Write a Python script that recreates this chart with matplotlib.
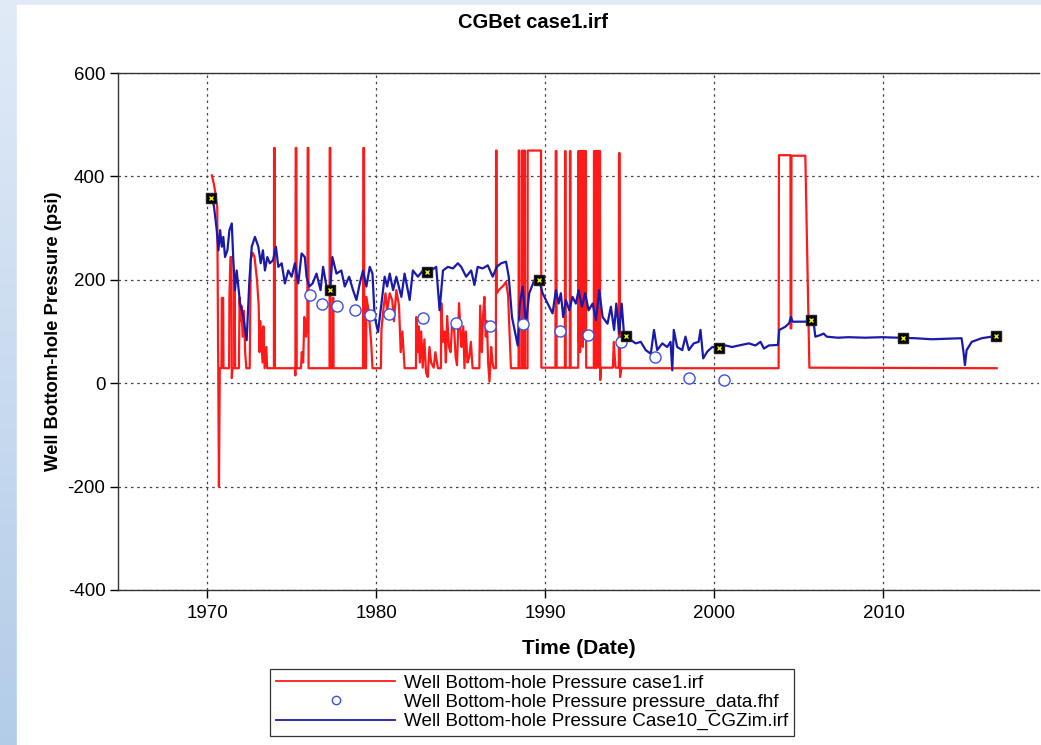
import numpy as np
import matplotlib
matplotlib.use("Agg")
import matplotlib.pyplot as plt
from matplotlib.patches import Rectangle
from matplotlib.lines import Line2D

plt.rcParams['font.family'] = ['Liberation Sans', 'DejaVu Sans']
plt.rcParams['axes.unicode_minus'] = False

# case1.irf simulated bottom-hole pressure (decimal year, psi)
red_years = [1970.28, 1970.40, 1970.47, 1970.60, 1970.70, 1970.75, 1970.85, 1970.87, 1970.95, 1970.97,
             1971.30, 1971.32, 1971.38, 1971.44, 1971.46, 1971.50, 1971.60, 1971.62, 1971.66, 1971.88,
             1971.92, 1971.98, 1972.03, 1972.10, 1972.18, 1972.25, 1972.32, 1972.52, 1972.58, 1972.70,
             1972.80, 1972.95, 1973.05, 1973.10, 1973.15, 1973.20, 1973.28, 1973.33, 1973.40, 1973.50,
             1973.55, 1973.95, 1973.96, 1974.00, 1974.01, 1975.20, 1975.22, 1975.24, 1975.28, 1975.30,
             1975.55, 1975.60, 1975.68, 1975.75, 1975.85, 1975.93, 1975.95, 1975.99, 1976.00, 1977.24,
             1977.25, 1977.29, 1977.30, 1977.43, 1977.44, 1977.47, 1977.48, 1979.22, 1979.24, 1979.28,
             1979.30, 1979.40, 1979.42, 1979.55, 1979.70, 1979.78, 1980.28, 1980.31, 1980.45, 1980.55,
             1980.65, 1980.80, 1980.95, 1981.05, 1981.19, 1981.35, 1981.45, 1981.55, 1981.68, 1982.35,
             1982.37, 1982.45, 1982.52, 1982.58, 1982.66, 1982.75, 1982.85, 1982.95, 1983.05, 1983.15,
             1983.25, 1983.40, 1983.50, 1983.65, 1983.83, 1983.85, 1983.95, 1984.05, 1984.12, 1984.20,
             1984.30, 1984.40, 1984.50, 1984.60, 1984.70, 1984.78, 1984.90, 1985.00, 1985.05, 1985.15,
             1985.22, 1985.30, 1985.40, 1985.50, 1985.60, 1985.70, 1986.10, 1986.15, 1986.25, 1986.32,
             1986.40, 1986.48, 1986.55, 1986.62, 1986.70, 1986.80, 1986.88, 1986.95, 1987.08, 1987.09,
             1987.12, 1987.13, 1987.25, 1987.40, 1987.55, 1987.68, 1987.80, 1987.97, 1988.42, 1988.43,
             1988.46, 1988.47, 1988.61, 1988.62, 1988.65, 1988.66, 1988.75, 1988.76, 1988.79, 1988.80,
             1988.95, 1988.96, 1989.75, 1989.77, 1990.60, 1990.62, 1990.66, 1990.67, 1991.16, 1991.17,
             1991.20, 1991.21, 1991.45, 1991.46, 1991.49, 1991.50, 1991.95, 1991.96, 1991.98, 1991.99,
             1992.02, 1992.05, 1992.06, 1992.10, 1992.13, 1992.14, 1992.18, 1992.21, 1992.22, 1992.27,
             1992.30, 1992.31, 1992.36, 1992.40, 1992.42, 1992.87, 1992.88, 1992.92, 1992.93, 1993.00,
             1993.01, 1993.04, 1993.05, 1993.10, 1993.14, 1993.16, 1993.20, 1993.24, 1993.25, 1993.30,
             1994.00, 1994.05, 1994.15, 1994.35, 1994.36, 1994.40, 1994.42, 1994.50, 2003.80, 2003.82,
             2004.50, 2004.51, 2004.55, 2004.56, 2005.38, 2005.62, 2016.70]
red_psi = [402, 385, 372, 340, -200, 29, 29, 165, 165, 29,
           29, 167, 244, 244, 10, 29, 29, 210, 29, 29,
           166, 120, 150, 90, 140, 60, 29, 29, 240, 252,
           245, 200, 150, 60, 120, 89, 40, 110, 29, 70,
           29, 29, 455, 455, 29, 29, 15, 455, 455, 29,
           29, 60, 40, 128, 90, 128, 455, 455, 29, 29,
           455, 455, 29, 29, 165, 165, 29, 29, 455, 455,
           29, 29, 167, 140, 80, 29, 29, 103, 150, 174,
           140, 174, 160, 120, 180, 150, 60, 100, 29, 29,
           128, 60, 110, 40, 100, 30, 85, 20, 12, 70,
           40, 30, 60, 29, 29, 155, 80, 100, 40, 130,
           70, 60, 120, 110, 50, 35, 155, 90, 70, 110,
           29, 100, 40, 50, 80, 29, 29, 150, 60, 130,
           167, 90, 120, 40, 3, 70, 40, 29, 29, 450,
           450, 174, 180, 185, 190, 196, 170, 29, 29, 450,
           450, 29, 29, 450, 450, 29, 29, 450, 450, 29,
           29, 450, 450, 30, 30, 449, 449, 30, 30, 449,
           449, 30, 30, 449, 449, 30, 30, 449, 449, 80,
           449, 449, 60, 449, 449, 100, 449, 449, 70, 449,
           449, 90, 449, 449, 30, 30, 449, 449, 30, 30,
           449, 449, 30, 449, 449, 30, 449, 449, 6, 30,
           30, 80, 30, 30, 445, 445, 12, 29, 29, 441,
           441, 106, 106, 440, 440, 30, 29]

# Case10_CGZim.irf simulated bottom-hole pressure
blue_years = [1970.28, 1970.41, 1970.57, 1970.67, 1970.77, 1970.87, 1970.96, 1971.06, 1971.20, 1971.32,
              1971.46, 1971.55, 1971.65, 1971.75, 1971.95, 1972.14, 1972.34, 1972.50, 1972.64, 1972.83,
              1973.03, 1973.17, 1973.30, 1973.42, 1973.56, 1973.71, 1973.90, 1974.07, 1974.21, 1974.41,
              1974.60, 1974.80, 1975.00, 1975.19, 1975.39, 1975.59, 1975.78, 1975.88, 1976.04, 1976.24,
              1976.47, 1976.71, 1976.86, 1977.06, 1977.26, 1977.41, 1977.65, 1977.94, 1978.14, 1978.40,
              1978.63, 1978.83, 1979.03, 1979.22, 1979.42, 1979.62, 1979.78, 1979.91, 1980.11, 1980.31,
              1980.50, 1980.65, 1980.80, 1981.00, 1981.19, 1981.49, 1981.68, 1981.98, 1982.17, 1982.47,
              1982.76, 1982.96, 1983.25, 1983.55, 1983.75, 1983.95, 1984.24, 1984.54, 1984.83, 1985.03,
              1985.32, 1985.62, 1985.81, 1986.00, 1986.30, 1986.60, 1986.89, 1987.13, 1987.39, 1987.68,
              1987.84, 1988.03, 1988.23, 1988.37, 1988.50, 1988.66, 1988.86, 1989.05, 1989.35, 1989.65,
              1989.84, 1990.14, 1990.43, 1990.63, 1990.79, 1990.92, 1991.06, 1991.22, 1991.42, 1991.61,
              1991.81, 1991.97, 1992.17, 1992.36, 1992.56, 1992.80, 1993.00, 1993.19, 1993.39, 1993.68,
              1993.88, 1994.07, 1994.20, 1994.37, 1994.52, 1994.66, 1994.95, 1995.35, 1995.65, 1995.94,
              1996.24, 1996.43, 1996.62, 1996.92, 1997.21, 1997.41, 1997.51, 1997.60, 1997.80, 1998.10,
              1998.29, 1998.49, 1998.78, 1999.07, 1999.18, 1999.34, 1999.58, 1999.88, 2000.30, 2000.66,
              2001.05, 2001.45, 2002.04, 2002.43, 2002.73, 2002.93, 2003.22, 2003.76, 2003.84, 2004.19,
              2004.42, 2004.53, 2004.62, 2005.87, 2005.97, 2006.26, 2006.46, 2006.65, 2007.30, 2007.93,
              2008.90, 2009.90, 2010.90, 2011.87, 2012.85, 2013.70, 2014.62, 2014.72, 2014.82, 2014.92,
              2015.22, 2015.81, 2016.59]
blue_psi = [360, 341, 296, 257, 296, 264, 283, 244, 257, 296,
            309, 238, 180, 218, 154, 128, 83, 199, 264, 283,
            264, 232, 257, 218, 244, 232, 238, 264, 225, 232,
            193, 218, 206, 232, 193, 251, 244, 206, 187, 193,
            212, 180, 225, 187, 174, 244, 212, 218, 187, 206,
            180, 161, 193, 218, 187, 225, 212, 128, 99, 154,
            206, 187, 212, 180, 206, 167, 212, 161, 218, 206,
            218, 222, 218, 225, 141, 218, 225, 222, 232, 225,
            206, 218, 190, 225, 222, 228, 206, 225, 232, 235,
            206, 128, 96, 73, 154, 187, 115, 174, 199, 199,
            174, 154, 135, 180, 154, 174, 128, 161, 141, 167,
            154, 180, 148, 174, 141, 154, 122, 180, 128, 115,
            148, 103, 154, 96, 154, 93, 86, 77, 80, 64,
            57, 103, 64, 77, 70, 80, 25, 103, 70, 64,
            90, 64, 77, 80, 103, 48, 61, 70, 68, 73,
            70, 73, 77, 73, 80, 67, 73, 74, 103, 109,
            116, 128, 119, 119, 90, 93, 96, 90, 88, 89,
            88, 89, 88, 87, 85, 86, 87, 64, 35, 64,
            80, 87, 91]

# pressure_data.fhf observed points
obs_years = [1976.08, 1976.77, 1977.69, 1978.77, 1979.66, 1980.76, 1982.77, 1984.73,
             1986.74, 1988.70, 1990.86, 1992.51, 1994.50, 1996.49, 1998.50, 2000.58]
obs_psi = [170, 154, 150, 141, 132, 133, 127, 117,
           111, 115, 101, 94, 79, 50, 10, 7]

# event flags drawn on the Case10 curve
flag_years = [1970.24, 1977.26, 1982.98, 1989.65, 1994.78, 2000.27, 2005.69, 2011.18, 2016.67]
flag_psi = [358, 180, 215, 199, 91, 68, 122, 87, 91]

y_ticks = [-400, -200, 0, 200, 400, 600]
x_ticks = [1970, 1980, 1990, 2000, 2010]

W, H = 1041, 745
fig = plt.figure(figsize=(W / 100, H / 100), dpi=100)

# light blue slide background with white panel
bg = fig.add_axes([0, 0, 1, 1], zorder=-5)
grad = np.linspace(0, 1, 256)[:, None]
top_c = np.array([0.88, 0.92, 0.97])
bot_c = np.array([0.70, 0.80, 0.91])
img = top_c[None, None, :] * (1 - grad[:, :, None]) + bot_c[None, None, :] * grad[:, :, None]
bg.imshow(img, extent=[0, 1, 0, 1], aspect='auto')
bg.add_patch(Rectangle((17 / W, 0), 1, 1 - 5 / H, color='white'))
bg.set_xlim(0, 1)
bg.set_ylim(0, 1)
bg.axis('off')

ax = fig.add_axes([118 / W, 1 - 590 / H, (1039 - 118) / W, (590 - 73) / H])
ax.set_facecolor('white')

ax.plot(red_years, red_psi, color='#ff1a1a', lw=1.6, zorder=2)
ax.plot(blue_years, blue_psi, color='#1a1aaa', lw=1.6, zorder=3)
ax.plot(obs_years, obs_psi, 'o', ms=8, mfc='white', mec='#3b4fe6', mew=1.0, zorder=4)
ax.plot(flag_years, flag_psi, 's', ms=6.5, mfc='black', mec='#222222', zorder=5)
ax.plot(flag_years, flag_psi, 'x', ms=3, mec='#f0f000', mew=1.0, zorder=6)

ax.set_xlim(1964.73, 2019.2)
ax.set_ylim(-400, 600)
ax.set_xticks(x_ticks)
ax.set_yticks(y_ticks)
ax.tick_params(direction='out', length=6, width=1, labelsize=13.5, colors='black', pad=3)
ax.tick_params(axis='x', pad=5)
ax.grid(True, color='#444444', linestyle=(0, (2, 3)), linewidth=0.9)
for s in ax.spines.values():
    s.set_color('#333333')
    s.set_linewidth(1.0)
ax.spines['right'].set_visible(False)

ax.set_xlabel('Time (Date)', fontsize=15, fontweight='bold', labelpad=12)
ax.set_ylabel('Well Bottom-hole Pressure (psi)', fontsize=13.3, fontweight='bold', labelpad=4)
fig.text(533 / W, 1 - 23 / H, 'CGBet case1.irf', fontsize=14.5, fontweight='bold',
         ha='center', va='center')

handles = [Line2D([], [], color='#ff1a1a', lw=1.3),
           Line2D([], [], ls='none', marker='o', ms=6, mfc='white', mec='#3b4fe6', mew=1.0),
           Line2D([], [], color='#1a1aaa', lw=1.3)]
labels = ['Well Bottom-hole Pressure case1.irf',
          'Well Bottom-hole Pressure pressure_data.fhf',
          'Well Bottom-hole Pressure Case10_CGZim.irf']
leg = fig.legend(handles, labels, loc='upper center', bbox_to_anchor=(532 / W, 1 - 669 / H),
                 fontsize=13.6, handlelength=6.3, handletextpad=0.45, labelspacing=0.1,
                 borderpad=0.3, borderaxespad=0, fancybox=False, framealpha=1,
                 edgecolor='#333333', numpoints=1)
leg.get_frame().set_linewidth(0.9)

fig.savefig('out.png', dpi=100)
